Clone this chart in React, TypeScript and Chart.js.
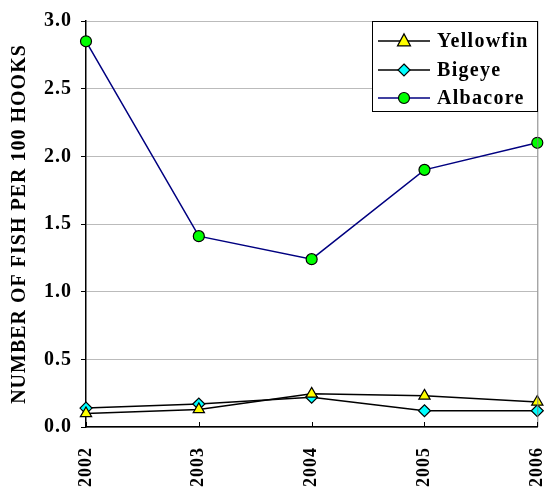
import React, { useEffect, useRef } from "react";
import { Chart, registerables } from "chart.js";

Chart.register(...registerables);

const years = ["2002", "2003", "2004", "2005", "2006"];
const yellowfin = [0.1, 0.13, 0.245, 0.23, 0.185];
const bigeye = [0.14, 0.17, 0.22, 0.12, 0.12];
const albacore = [2.85, 1.41, 1.24, 1.9, 2.1];
const yTicks = [0, 0.5, 1.0, 1.5, 2.0, 2.5, 3.0];
const yTitle = "NUMBER OF FISH PER 100 HOOKS";

const FONT = "'Liberation Serif', 'Times New Roman', serif";
const SPACING = "1px";

function drawMarker(ctx: CanvasRenderingContext2D, style: string, x: number, y: number, r: number, fill: string) {
  ctx.save();
  ctx.beginPath();
  if (style === "triangle") {
    ctx.moveTo(x, y - r * 1.1);
    ctx.lineTo(x + r, y + r * 0.75);
    ctx.lineTo(x - r, y + r * 0.75);
    ctx.closePath();
  } else if (style === "rectRot") {
    ctx.moveTo(x, y - r);
    ctx.lineTo(x + r, y);
    ctx.lineTo(x, y + r);
    ctx.lineTo(x - r, y);
    ctx.closePath();
  } else {
    ctx.arc(x, y, r, 0, Math.PI * 2);
  }
  ctx.fillStyle = fill;
  ctx.fill();
  ctx.lineWidth = 1.2;
  ctx.strokeStyle = "#000";
  ctx.stroke();
  ctx.restore();
}

const spacingPlugin = {
  id: "spacing",
  beforeUpdate(chart: any) {
    (chart.ctx as any).letterSpacing = SPACING;
  },
  beforeDraw(chart: any) {
    (chart.ctx as any).letterSpacing = SPACING;
  },
};

const framePlugin = {
  id: "frame",
  afterDraw(chart: any) {
    const { ctx, chartArea } = chart;
    const { right, top, bottom } = chartArea;
    ctx.save();
    ctx.strokeStyle = "#808080";
    ctx.lineWidth = 1;
    ctx.beginPath();
    ctx.moveTo(right + 0.5, top);
    ctx.lineTo(right + 0.5, bottom);
    ctx.stroke();
    const xs = chart.scales.x;
    ctx.strokeStyle = "#000";
    ctx.beginPath();
    for (let i = 0; i < years.length; i++) {
      const px = Math.round(xs.getPixelForValue(i)) + 0.5;
      ctx.moveTo(px, bottom);
      ctx.lineTo(px, bottom - 5);
    }
    ctx.stroke();
    ctx.restore();
  },
};

const legendPlugin = {
  id: "boxLegend",
  afterDraw(chart: any) {
    const { ctx } = chart;
    const bx = 372.5, by = 21.5, bw = 165, bh = 90;
    ctx.save();
    ctx.fillStyle = "#fff";
    ctx.fillRect(bx, by, bw, bh);
    ctx.strokeStyle = "#000";
    ctx.lineWidth = 1;
    ctx.strokeRect(bx, by, bw, bh);
    const items = chart.data.datasets;
    const rowY = [41, 70, 98];
    ctx.font = `bold 20px ${FONT}`;
    (ctx as any).letterSpacing = "1.3px";
    ctx.textBaseline = "middle";
    ctx.textAlign = "left";
    items.forEach((ds: any, i: number) => {
      const y = rowY[i];
      ctx.strokeStyle = ds.borderColor;
      ctx.lineWidth = 1.5;
      ctx.beginPath();
      ctx.moveTo(378, y);
      ctx.lineTo(430, y);
      ctx.stroke();
      drawMarker(ctx, ds.pointStyle, 404, y, ds.pointRadius, ds.pointBackgroundColor);
      ctx.fillStyle = "#000";
      ctx.fillText(ds.label, 437, y + 1);
    });
    ctx.restore();
  },
};

export default function App() {
  const ref = useRef<HTMLCanvasElement>(null);
  useEffect(() => {
    const chart = new Chart(ref.current!, {
      type: "line",
      data: {
        labels: years,
        datasets: [
          {
            label: "Yellowfin",
            data: yellowfin,
            borderColor: "#000000",
            borderWidth: 1.5,
            pointStyle: "triangle",
            pointRadius: 6.5,
            pointBackgroundColor: "#FFFF00",
            pointBorderColor: "#000",
            pointBorderWidth: 1.2,
          },
          {
            label: "Bigeye",
            data: bigeye,
            borderColor: "#000000",
            borderWidth: 1.5,
            pointStyle: "rectRot",
            pointRadius: 6,
            pointBackgroundColor: "#00FFFF",
            pointBorderColor: "#000",
            pointBorderWidth: 1.2,
          },
          {
            label: "Albacore",
            data: albacore,
            borderColor: "#000080",
            borderWidth: 1.5,
            pointStyle: "circle",
            pointRadius: 5.5,
            pointBackgroundColor: "#00FF00",
            pointBorderColor: "#000",
            pointBorderWidth: 1.2,
          },
        ],
      },
      options: {
        responsive: false,
        animation: false,
        layout: { padding: { top: 21, right: 7, left: 0, bottom: 0 } },
        plugins: { legend: { display: false }, tooltip: { enabled: false } },
        scales: {
          x: {
            offset: false,
            grid: { display: false },
            border: { display: true, color: "#000", width: 1.5 },
            ticks: {
              minRotation: 90,
              maxRotation: 90,
              padding: 12,
              color: "#000",
              font: { family: FONT, size: 18, weight: "bold" },
            },
            afterFit(scale: any) {
              scale.height = 60;
              scale.paddingLeft = 0;
              scale.paddingRight = 0;
            },
          },
          y: {
            min: 0,
            max: 3,
            afterBuildTicks(scale: any) {
              scale.ticks = yTicks.map((v) => ({ value: v }));
            },
            grid: { color: "#BBBBBB", tickColor: "#000", tickLength: 5, lineWidth: 1 },
            border: { display: true, color: "#000", width: 1.5 },
            ticks: {
              padding: 9,
              color: "#000",
              font: { family: FONT, size: 20, weight: "bold" },
              callback: (v: any) => Number(v).toFixed(1),
            },
            title: {
              display: true,
              text: yTitle,
              color: "#000",
              font: { family: FONT, size: 20, weight: "bold" },
              padding: { top: 8, bottom: 0 },
            },
            afterFit(scale: any) {
              scale.width = 86;
              scale.paddingTop = 0;
              scale.paddingBottom = 0;
            },
          },
        },
      },
      plugins: [spacingPlugin, framePlugin, legendPlugin],
    } as any);
    return () => chart.destroy();
  }, []);
  return (
    <div style={{ position: "fixed", left: 0, top: 0, width: 545, height: 487, background: "#fff" }}>
      <canvas ref={ref} width={545} height={487} style={{ width: 545, height: 487 }} />
    </div>
  );
}
